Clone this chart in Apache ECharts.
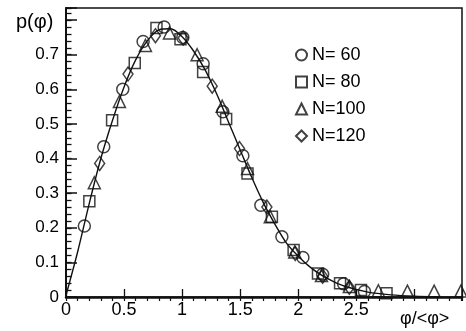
<!DOCTYPE html>
<html>
<head>
<meta charset="utf-8">
<script src="https://cdn.jsdelivr.net/npm/echarts@6/dist/echarts.min.js"></script>
<style>
  html, body { margin: 0; padding: 0; background: #fff; }
  #chart { width: 466px; height: 331px; }
</style>
</head>
<body>
<div id="chart"></div>
<script>
// fitted curve
const curveX = [0, 0.1, 0.2, 0.3, 0.4, 0.5, 0.6, 0.7, 0.8, 0.9, 1.0, 1.1, 1.2, 1.3, 1.4, 1.5, 1.6, 1.7, 1.8, 1.9, 2.0, 2.1, 2.2, 2.3, 2.4, 2.6, 2.8, 3.0, 3.2]
const curveY = [0.005, 0.13, 0.27, 0.40, 0.51, 0.607, 0.685, 0.74, 0.772, 0.775, 0.752, 0.71, 0.655, 0.585, 0.505, 0.425, 0.345, 0.272, 0.21, 0.155, 0.118, 0.087, 0.063, 0.045, 0.031, 0.014, 0.006, 0.002, 0]

// N=60 (circles)
const n60X = [0.158, 0.325, 0.489, 0.664, 0.845, 1.006, 1.181, 1.351, 1.523, 1.678, 1.859, 2.04, 2.21, 2.39, 2.57]
const n60Y = [0.205, 0.434, 0.600, 0.738, 0.780, 0.750, 0.674, 0.535, 0.408, 0.265, 0.174, 0.114, 0.066, 0.038, 0.016]
// N=80 (squares)
const n80X = [0.201, 0.397, 0.592, 0.779, 0.986, 1.181, 1.379, 1.563, 1.773, 1.96, 2.17, 2.36, 2.54, 2.76]
const n80Y = [0.277, 0.511, 0.676, 0.777, 0.745, 0.650, 0.514, 0.357, 0.232, 0.136, 0.068, 0.040, 0.020, 0.011]
// N=100 (triangles)
const n100X = [0.244, 0.46, 0.684, 0.891, 1.129, 1.345, 1.563, 1.759, 1.97, 2.2, 2.44, 2.69, 2.94, 3.17, 3.40]
const n100Y = [0.330, 0.565, 0.727, 0.763, 0.700, 0.551, 0.371, 0.232, 0.130, 0.062, 0.030, 0.018, 0.017, 0.017, 0.017]
// N=120 (diamonds)
const n120X = [0.29, 0.534, 0.770, 1.009, 1.259, 1.494, 1.730, 1.974, 2.21, 2.44]
const n120Y = [0.386, 0.644, 0.755, 0.748, 0.609, 0.429, 0.260, 0.126, 0.060, 0.028]

const yTicks = ['0', '0.1', '0.2', '0.3', '0.4', '0.5', '0.6', '0.7']
const xTicks = ['0', '0.5', '1', '1.5', '2', '2.5']

const pairs = (xs, ys) => xs.map((x, i) => [x, ys[i]])

const chart = echarts.init(document.getElementById('chart'))

const ink = '#111'
const font = 'Liberation Sans'

const markerSeries = (name, symbol, size, xs, ys) => ({
  name: name,
  type: 'scatter',
  symbol: symbol,
  symbolSize: size,
  data: pairs(xs, ys),
  itemStyle: { color: 'rgba(0,0,0,0)', borderColor: ink, borderWidth: 1.5 },
  z: 3
})

const option = {
  animation: false,
  backgroundColor: '#fff',
  grid: {
    left: 66, right: 4, top: 8, bottom: 34,
    show: true, borderColor: ink, borderWidth: 1.5
  },
  legend: {
    orient: 'vertical',
    left: 290, top: 41,
    itemWidth: 11, itemHeight: 11, itemGap: 9,
    textStyle: { fontFamily: font, fontSize: 18, color: '#000' },
    data: ['N= 60', 'N= 80', 'N=100', 'N=120']
  },
  xAxis: [
    {
      type: 'value', min: 0, max: 3.41, interval: 0.5,
      axisLine: { lineStyle: { color: ink, width: 2.5 } },
      axisTick: { inside: true, length: 8, lineStyle: { color: ink, width: 1.3 } },
      splitLine: { show: false },
      axisLabel: {
        fontFamily: font, fontSize: 18, color: '#000', margin: 4,
        formatter: v => {
          const s = String(Math.round(v * 10) / 10)
          return xTicks.includes(s) && Math.abs(v * 2 - Math.round(v * 2)) < 1e-6 ? s : ''
        }
      }
    },
    {
      type: 'value', min: 0, max: 3.41, interval: 0.1,
      axisLine: { show: false },
      axisTick: { inside: true, length: 4, lineStyle: { color: ink, width: 1.2 } },
      axisLabel: { show: false },
      splitLine: { show: false }
    }
  ],
  yAxis: [
    {
      type: 'value', min: 0, max: 0.835, interval: 0.1,
      axisLine: { show: true, lineStyle: { color: ink, width: 2 } },
      axisTick: { show: true, inside: true, length: 11, lineStyle: { color: ink, width: 1.5 } },
      splitLine: { show: false },
      axisLabel: {
        fontFamily: font, fontSize: 17, color: '#000', margin: 7,
        formatter: v => {
          const s = String(Math.round(v * 10) / 10)
          return yTicks.includes(s) && Math.abs(v * 10 - Math.round(v * 10)) < 1e-6 ? s : ''
        }
      }
    },
    {
      type: 'value', min: 0, max: 0.835, interval: 0.02,
      position: 'left',
      axisLine: { show: false },
      axisTick: { show: true, inside: true, length: 5.5, lineStyle: { color: ink, width: 1.3 } },
      axisLabel: { show: false },
      splitLine: { show: false }
    }
  ],
  graphic: [
    { type: 'text', left: 16, top: 12, style: { text: 'p(φ)', fontFamily: font, fontSize: 20, fill: '#000' } },
    { type: 'text', left: 400, top: 310, style: { text: 'φ/<φ>', fontFamily: font, fontSize: 18, fill: '#000' } }
  ],
  series: [
    {
      name: 'fit',
      type: 'line',
      data: pairs(curveX, curveY),
      smooth: 0.3,
      showSymbol: false,
      lineStyle: { color: ink, width: 1.4 },
      z: 2
    },
    markerSeries('N= 60', 'circle', 12, n60X, n60Y),
    markerSeries('N= 80', 'rect', 11, n80X, n80Y),
    markerSeries('N=100', 'triangle', 12, n100X, n100Y),
    markerSeries('N=120', 'diamond', [10, 14], n120X, n120Y)
  ]
}

chart.setOption(option)
</script>
</body>
</html>
